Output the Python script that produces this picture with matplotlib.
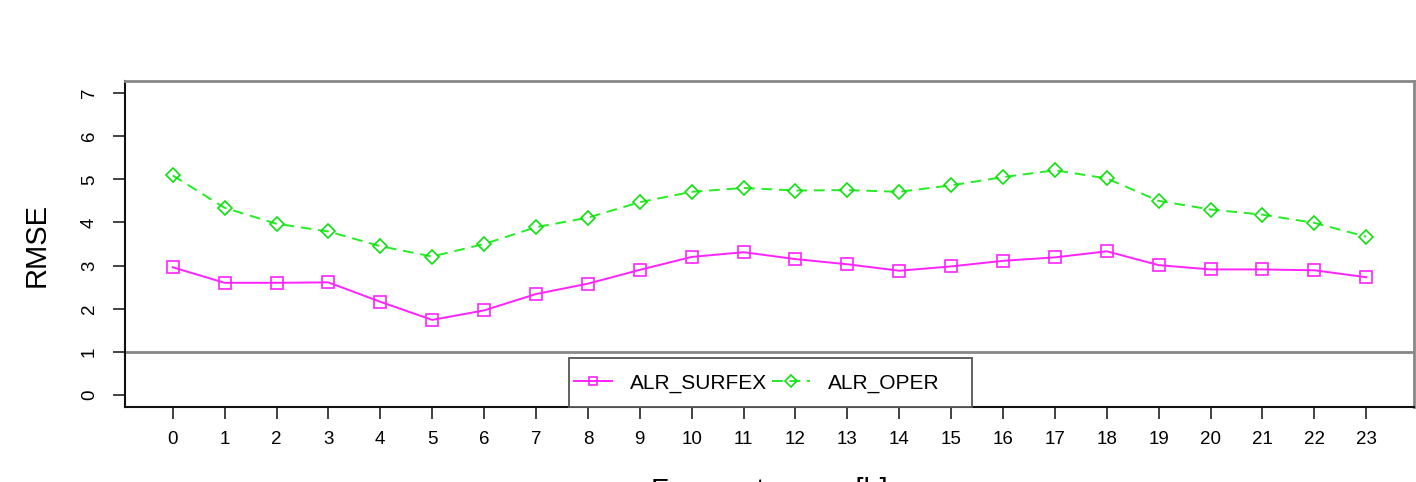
import matplotlib
matplotlib.use("Agg")
import matplotlib.pyplot as plt
from matplotlib.patches import Rectangle

hours = list(range(24))
alr_surfex = [2.96, 2.60, 2.60, 2.61, 2.16, 1.74, 1.96, 2.34, 2.58, 2.90, 3.20, 3.31,
              3.15, 3.03, 2.88, 2.98, 3.11, 3.19, 3.33, 3.01, 2.91, 2.91, 2.89, 2.73]
alr_oper = [5.09, 4.34, 3.97, 3.79, 3.45, 3.21, 3.50, 3.89, 4.11, 4.47, 4.71, 4.80,
            4.74, 4.75, 4.71, 4.86, 5.05, 5.21, 5.02, 4.50, 4.30, 4.18, 3.99, 3.67]
yticks = [0, 1, 2, 3, 4, 5, 6, 7]

plt.rcParams['font.family'] = ['Liberation Sans', 'DejaVu Sans']

W, H = 1416, 482
fig = plt.figure(figsize=(W / 100, H / 100), dpi=100)
ax = fig.add_axes([125 / W, (H - 407) / H, (1414 - 125) / W, (407 - 81) / H])

ax.axhline(1, color='#888888', lw=2.0, zorder=1)
ax.plot(hours, alr_surfex, color='#ff22ff', lw=1.4, marker='s', ms=8,
        mfc='none', mec='#ff22ff', mew=1.2, label='ALR_SURFEX', zorder=3)
ax.plot(hours, alr_oper, color='#22ee22', lw=1.4, ls=(0, (5.5, 3.5)), marker='D', ms=7.5,
        mfc='none', mec='#11dd11', mew=1.2, label='ALR_OPER', zorder=3)

ax.set_xlim(-0.92, 23.92)
ax.set_ylim(-0.28, 7.28)
ax.set_xticks(hours)
ax.set_xticklabels([str(h) for h in hours])
ax.set_yticks(yticks)
ax.set_yticklabels([str(v) for v in yticks], rotation=90, va='center')
ax.tick_params(axis='x', length=8.5, width=1.2, pad=9, labelsize=13.5, color='#222222')
ax.tick_params(axis='y', length=8.5, width=1.2, pad=11, labelsize=13.5, color='#222222')

for s in ['top', 'right']:
    ax.spines[s].set_color('#888888')
    ax.spines[s].set_linewidth(2.0)
for s in ['left', 'bottom']:
    ax.spines[s].set_color('#111111')
    ax.spines[s].set_linewidth(1.5)

fig.text(37 / W, (H - 245) / H, 'RMSE', rotation=90, fontsize=21,
         ha='center', va='center')
fig.text(769.5 / W, (H - 499) / H, 'Forecast range [h]', fontsize=21,
         ha='center', va='baseline')

legend_kw = dict(loc='center left', bbox_to_anchor=(574 / W, (H - 383) / H),
                 ncol=2, frameon=False, fontsize=15, handlelength=1.83,
                 handletextpad=0.87, columnspacing=0.2, borderpad=0.0,
                 borderaxespad=0.0, markerscale=0.8)
handles, labels = ax.get_legend_handles_labels()
leg = fig.legend(handles, labels, **legend_kw)
leg.set_zorder(6)

fig.canvas.draw()
ext = leg.get_window_extent()
x0 = ext.x0 - 5
x1 = ext.x1 + 33
y0 = (H - 407)
y1 = (H - 358)
rect = Rectangle((x0 / W, y0 / H), (x1 - x0) / W, (y1 - y0) / H,
                 transform=fig.transFigure, facecolor='white', edgecolor='#555555',
                 lw=1.3, zorder=5)
fig.patches.append(rect)

fig.savefig('out.png', dpi=100)
